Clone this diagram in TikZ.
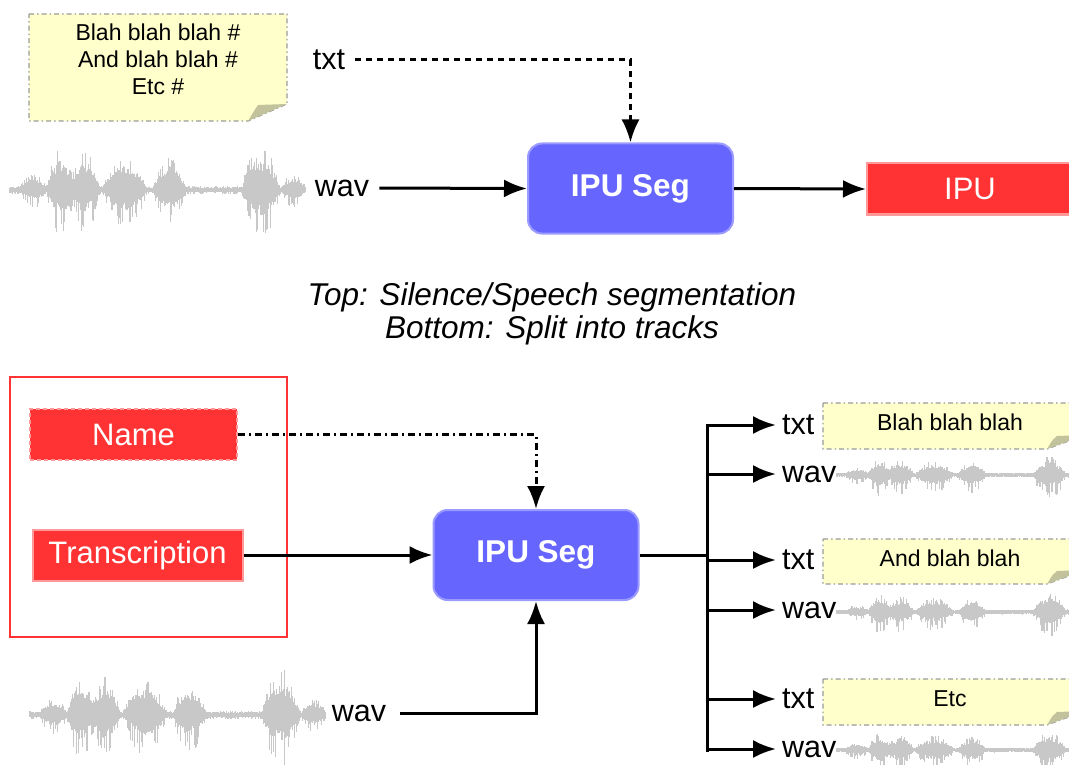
\documentclass[tikz,border=0pt]{standalone}
\usepackage{fontspec}
\setmainfont{Liberation Sans}
\usetikzlibrary{arrows.meta}
\definecolor{segblue}{HTML}{6666FF}
\definecolor{segborder}{HTML}{9A9AFF}
\definecolor{ipured}{HTML}{FF3333}
\definecolor{redborder}{HTML}{FF9999}
\definecolor{noteyellow}{HTML}{FFFFCC}
\definecolor{notegray}{HTML}{9A9A9A}
\definecolor{flapcol}{HTML}{C2C29C}
\definecolor{wavegray}{HTML}{C8C8C8}
% x0, y centre, width, amplitude up, amplitude down
\newcommand\wavefm[5]{%
  \foreach \i in {0,...,300}{%
    \pgfmathsetmacro\wvT{\i/300}%
    \pgfmathsetmacro\wvE{0.07+0.3*max(0,1-(\wvT-0.08)*(\wvT-0.08)/0.002025)+0.9*max(0,1-(\wvT-0.17)*(\wvT-0.17)/0.002025)+0.85*max(0,1-(\wvT-0.255)*(\wvT-0.255)/0.0025)+0.75*max(0,1-(\wvT-0.39)*(\wvT-0.39)/0.005625)+0.7*max(0,1-(\wvT-0.54)*(\wvT-0.54)/0.003025)+1.0*max(0,1-(\wvT-0.85)*(\wvT-0.85)/0.004225)+0.3*max(0,1-(\wvT-0.96)*(\wvT-0.96)/0.0016)}%
    \pgfmathsetmacro\wvU{#4*\wvE*(rnd<0.2 ? (0.85+0.25*rnd) : (0.45+0.35*rnd))}%
    \pgfmathsetmacro\wvD{#5*\wvE*(rnd<0.3 ? (0.85+0.45*rnd) : (0.35+0.3*rnd))}%
    \draw[wavegray, line width=1.1pt] ({#1+#3*\wvT},{#2-\wvU-1}) -- ({#1+#3*\wvT},{#2+\wvD+1});
  }}
% x1 y1 x2 y2 foldx foldy
\newcommand\notebox[6]{%
  \fill[noteyellow] (#1,#2) -- (#3,#2) -- (#3,{#4-#6}) -- ({#3-#5},#4) -- (#1,#4) -- cycle;
  \draw[notegray, line width=1.2pt, dash pattern=on 5pt off 3pt on 1.5pt off 3pt] (#1,#2) -- (#3,#2) -- (#3,{#4-#6}) -- ({#3-#5},#4) -- (#1,#4) -- cycle;
  \fill[flapcol] ({#3-#5},#4) .. controls ({#3-#5+6},{#4-10}) .. ({#3-#5+10},{#4-#6+1}) -- (#3,{#4-#6}) -- cycle;
}
\begin{document}
\begin{tikzpicture}[x=1pt,y=-1pt,
  big/.style={font=\fontsize{30.5}{36}\selectfont, inner sep=4pt},
  segbox/.style={draw=segborder, line width=2pt, fill=segblue, rounded corners=14pt,
    minimum width=205pt, minimum height=90pt, text=white,
    font=\bfseries\fontsize{31.5}{36}\selectfont},
  redbox/.style={draw=redborder, line width=2pt, fill=ipured, text=white,
    minimum height=51pt, font=\fontsize{31}{36}\selectfont},
  notetext/.style={font=\fontsize{23}{27}\selectfont, align=center},
  arr/.style={line width=3pt, -{Latex[length=23pt,width=18pt]}},
  plain/.style={line width=3pt},
  frame/.style={draw=ipured, line width=2pt}]
\useasboundingbox (0,0) rectangle (1069,765);
\clip (0,0) rectangle (1069,765);
\pgfmathsetseed{7}

% ---------- top ----------
\notebox{29}{14}{287}{121}{39}{17}
\node[notetext] (topnote) at (158,59) {Blah blah blah \#\\And blah blah \#\\Etc \#};
\wavefm{10}{190}{295}{38}{36}
\node[big] (txt1) at (329,60) {txt};
\node[big] (wav1) at (342,188) {wav};
\node[segbox] (seg1) at (630.5,188.5) {IPU Seg};
\node[redbox, minimum width=206pt] (ipu) at (970,189) {IPU};
\draw[arr, dash pattern=on 6pt off 5pt, shorten <=6pt] (txt1.east) -| (seg1.north);
\draw[arr, shorten <=6pt] (wav1.east) -- (seg1.west);
\draw[arr] (seg1.east) -- (ipu.west);

% ---------- captions ----------
\node[big, font=\itshape\fontsize{31.5}{36}\selectfont] (cap1) at (552,297) {Top: Silence/Speech segmentation};
\node[big, font=\itshape\fontsize{31.5}{36}\selectfont] (cap2) at (552,330) {Bottom: Split into tracks};

% ---------- bottom ----------
\node[frame, minimum width=277pt, minimum height=260pt] (frm) at (148.5,507) {};
\node[redbox, draw=redborder, dash pattern=on 4pt off 3pt, minimum width=207pt] (name) at (133.5,434.5) {Name};
\node[redbox, minimum width=210pt] (trans) at (137.5,555) {Transcription};
\node[segbox] (seg2) at (536,555) {IPU Seg};
\wavefm{30}{715}{295}{39}{38}
\node[big] (wav2) at (359,713) {wav};
\draw[arr, dash pattern=on 7pt off 4pt on 2pt off 4pt] (name.east) -| (seg2.north);
\draw[arr] (trans.east) -- (seg2.west);
\draw[arr, shorten <=10pt] (wav2.east) -| (seg2.south);

% outputs
\notebox{823}{403}{1085}{449}{38}{14}
\notebox{823}{539}{1085}{584}{38}{14}
\notebox{823}{679}{1085}{725}{38}{14}
\node[notetext] (n1) at (950,422) {Blah blah blah};
\node[notetext] (n2) at (950,558) {And blah blah};
\node[notetext] (n3) at (950,699) {Etc};
\wavefm{837}{475}{250}{15}{17}
\wavefm{837}{612}{250}{15}{17}
\wavefm{837}{750}{250}{15}{17}

\coordinate (bj) at (707,555);
\coordinate (btop) at (707,425);
\coordinate (bbot) at (707,750);
\draw[plain] (seg2.east) -- (bj);
\draw[plain, line cap=rect] (btop) -- (bbot);
\node[big, anchor=west] (t1) at (778,425) {txt};
\node[big, anchor=west] (w1) at (778,474) {wav};
\node[big, anchor=west] (t2) at (778,560) {txt};
\node[big, anchor=west] (w2) at (778,610) {wav};
\node[big, anchor=west] (t3) at (778,699) {txt};
\node[big, anchor=west] (w3) at (778,749) {wav};
\foreach \n in {t1,w1,t2,w2,t3,w3}{
  \draw[arr, shorten >=2pt] (\n.west -| bj) -- (\n.west);
}
\end{tikzpicture}
\end{document}
